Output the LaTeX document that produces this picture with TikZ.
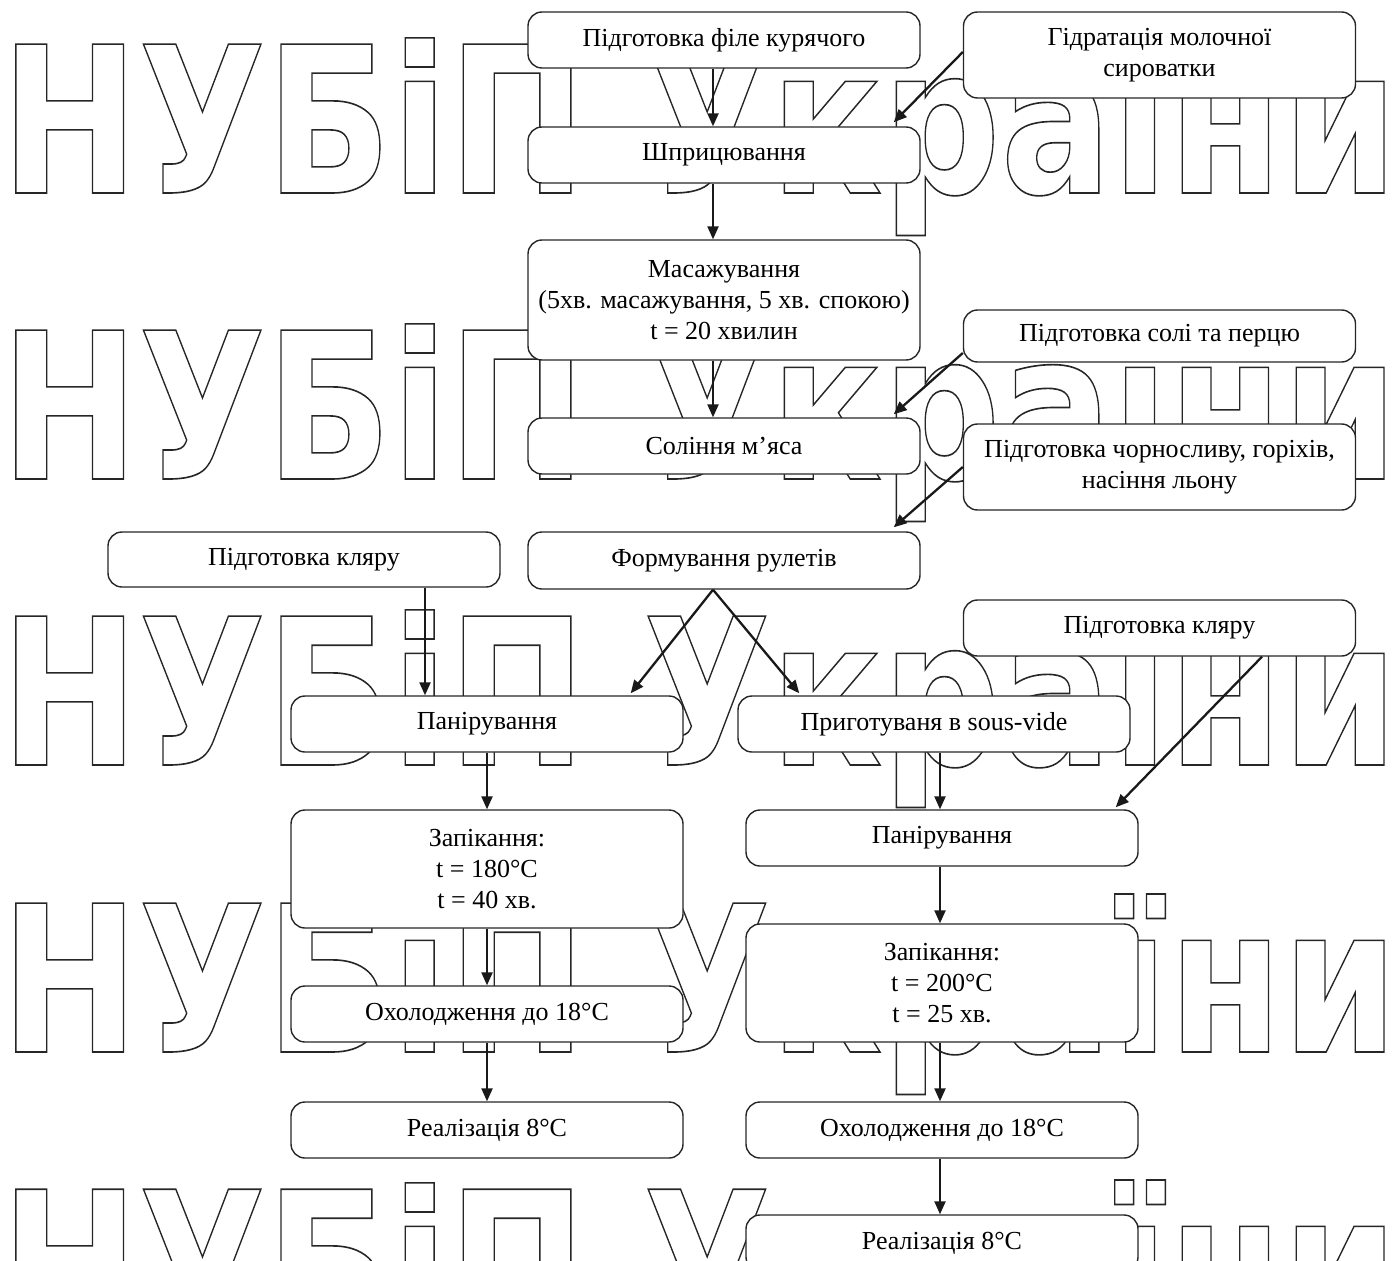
\documentclass[tikz,border=0pt]{standalone}
\usepackage{fontspec}
\setmainfont{Liberation Serif}
\newfontfamily\wmfont{DejaVu Sans}
\usetikzlibrary{arrows.meta}
\newcommand\wmline{\resizebox{1397pt}{158pt}{\fontsize{200pt}{200pt}\wmfont\bfseries\special{pdf:literal direct 1 Tr 1.6 w}НУБіП України\special{pdf:literal direct 0 Tr}}}
\begin{document}
\begin{tikzpicture}[x=1pt,y=-1pt,
  box/.style={draw=black!85, line width=1.4pt, fill=white, rounded corners=14pt,
    minimum width=392pt, minimum height=56pt, align=center, inner sep=0pt,
    font=\fontsize{26}{31}\selectfont},
  arr/.style={-{Triangle[length=13pt,width=11pt]}, line width=2.3pt, black!90},
  wm/.style={anchor=base west, inner sep=0pt, text=black!85}]
\useasboundingbox (0,0) rectangle (1399,1260);
\begin{scope}
\clip (0,0) rectangle (1399,1260);
\node[wm] (wm1) at (0.5,193) {\wmline};
\node[wm] (wm2) at (0.5,479) {\wmline};
\node[wm] (wm3) at (0.5,765) {\wmline};
\node[wm] (wm4) at (0.5,1052) {\wmline};
\node[wm] (wm5) at (0.5,1338) {\wmline};
\end{scope}
% boxes
\node[box] (filet) at (724,40) {Підготовка філе курячого};
\node[box, minimum height=86pt] (hydr) at (1159.5,55) {Гідратація молочної\\сироватки};
\node[box] (shpr) at (724,155) {Шприцювання};
\node[box, minimum height=120pt] (mas) at (724,300) {Масажування\\(5хв. масажування, 5 хв. спокою)\\t = 20 хвилин};
\node[box, minimum height=52pt] (salt) at (1159.5,336) {Підготовка солі та перцю};
\node[box] (sol) at (724,446) {Соління м’яса};
\node[box, minimum height=86pt] (prun) at (1159.5,467) {Підготовка чорносливу, горіхів,\\насіння льону};
\node[box, minimum height=55pt] (klL) at (304,559.5) {Підготовка кляру};
\node[box, minimum height=57pt] (form) at (724,560.5) {Формування рулетів};
\node[box] (klR) at (1159.5,628) {Підготовка кляру};
\node[box] (panL) at (487,724) {Панірування};
\node[box] (sous) at (934,724) {Приготуваня в sous-vide};
\node[box, minimum height=118pt] (zapL) at (487,869) {Запікання:\\t = 180°C\\t = 40 хв.};
\node[box] (panR) at (942,838) {Панірування};
\node[box] (oholL) at (487,1014) {Охолодження до 18°C};
\node[box, minimum height=118pt] (zapR) at (942,983) {Запікання:\\t = 200°C\\t = 25 хв.};
\node[box] (realL) at (487,1130) {Реалізація 8°C};
\node[box] (oholR) at (942,1130) {Охолодження до 18°C};
\node[box] (realR) at (942,1243) {Реалізація 8°C};
% arrows
\draw[arr] ([xshift=-11pt]filet.south) -- ([xshift=-11pt]shpr.north);
\draw[arr] ([yshift=3pt]hydr.west) -- ([xshift=-27pt,yshift=4pt]shpr.north east);
\draw[arr] ([xshift=-11pt]shpr.south) -- ([xshift=-11pt]mas.north);
\draw[arr] ([xshift=-11pt]mas.south) -- ([xshift=-11pt]sol.north);
\draw[arr] ([yshift=-17pt]salt.west) -- ([xshift=-27pt,yshift=3pt]sol.north east);
\draw[arr] (prun.west) -- ([xshift=-27pt,yshift=4pt]form.north east);
\draw[arr] ([xshift=121pt]klL.south) -- ([xshift=-62pt]panL.north);
\draw[arr] ([xshift=-11pt]form.south) -- ([xshift=-53pt,yshift=2pt]panL.north east);
\draw[arr] ([xshift=-11pt]form.south) -- ([xshift=62pt,yshift=2pt]sous.north west);
\draw[arr] ([xshift=102.5pt]klR.south) -- ([xshift=-23pt,yshift=2pt]panR.north east);
\draw[arr] (panL.south) -- (zapL.north);
\draw[arr] ([xshift=6pt]sous.south) -- ([xshift=-2pt]panR.north);
\draw[arr] (zapL.south) -- (oholL.north);
\draw[arr] ([xshift=-2pt]panR.south) -- ([xshift=-2pt]zapR.north);
\draw[arr] (oholL.south) -- (realL.north);
\draw[arr] ([xshift=-2pt]zapR.south) -- ([xshift=-2pt]oholR.north);
\draw[arr] ([xshift=-2pt]oholR.south) -- ([xshift=-2pt]realR.north);
\end{tikzpicture}
\end{document}
